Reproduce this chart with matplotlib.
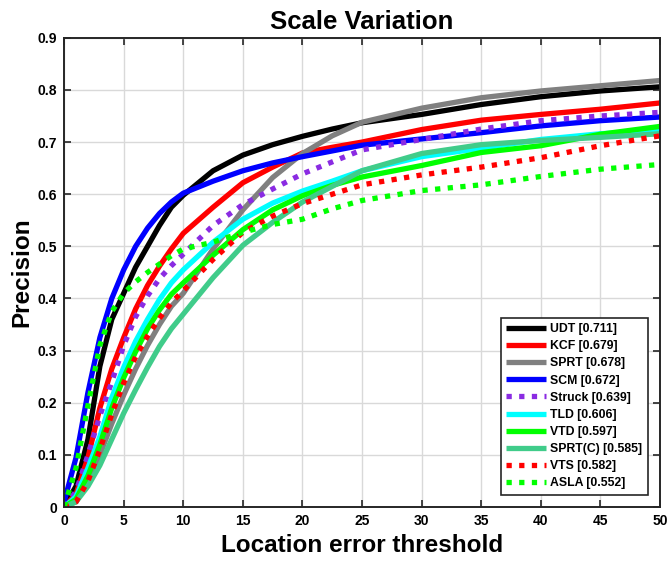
import matplotlib
matplotlib.use("Agg")
import matplotlib.pyplot as plt

# Data (precision vs location error threshold)
thresholds = [0, 1, 2, 3, 4, 5, 6, 7, 8, 9, 10, 12.5, 15, 17.5, 20, 22.5, 25, 30, 35, 40, 45, 50]

udt = [0, 0.04, 0.13, 0.27, 0.36, 0.41, 0.46, 0.50, 0.54, 0.575, 0.598, 0.645, 0.675, 0.695,
       0.711, 0.725, 0.737, 0.753, 0.772, 0.787, 0.798, 0.806]
kcf = [0, 0.025, 0.095, 0.19, 0.265, 0.325, 0.38, 0.425, 0.462, 0.495, 0.525, 0.575, 0.622, 0.652,
       0.679, 0.69, 0.70, 0.724, 0.742, 0.753, 0.763, 0.775]
sprt = [0, 0.01, 0.05, 0.10, 0.16, 0.215, 0.265, 0.31, 0.35, 0.385, 0.41, 0.495, 0.57, 0.632,
        0.678, 0.712, 0.738, 0.765, 0.785, 0.798, 0.808, 0.818]
scm = [0.01, 0.095, 0.22, 0.325, 0.40, 0.455, 0.50, 0.535, 0.563, 0.585, 0.602, 0.625, 0.645, 0.66,
       0.672, 0.683, 0.694, 0.706, 0.718, 0.731, 0.741, 0.748]
struck = [0, 0.03, 0.10, 0.175, 0.24, 0.31, 0.365, 0.405, 0.438, 0.463, 0.485, 0.54, 0.58, 0.61,
          0.639, 0.662, 0.685, 0.705, 0.725, 0.741, 0.75, 0.757]
tld = [0, 0.02, 0.075, 0.135, 0.21, 0.268, 0.318, 0.36, 0.398, 0.43, 0.455, 0.508, 0.552, 0.583,
       0.606, 0.625, 0.645, 0.672, 0.688, 0.705, 0.716, 0.722]
vtd = [0, 0.015, 0.06, 0.12, 0.19, 0.248, 0.298, 0.342, 0.378, 0.408, 0.43, 0.483, 0.532, 0.57,
       0.597, 0.617, 0.633, 0.655, 0.68, 0.693, 0.715, 0.73]
sprt_c = [0, 0.01, 0.04, 0.08, 0.13, 0.18, 0.225, 0.268, 0.308, 0.342, 0.37, 0.44, 0.502, 0.546,
          0.585, 0.615, 0.645, 0.678, 0.695, 0.703, 0.709, 0.716]
vts = [0, 0.01, 0.05, 0.11, 0.178, 0.238, 0.288, 0.328, 0.362, 0.392, 0.415, 0.475, 0.527, 0.558,
       0.582, 0.6, 0.618, 0.637, 0.652, 0.67, 0.693, 0.712]
asla = [0, 0.075, 0.195, 0.31, 0.375, 0.41, 0.432, 0.45, 0.466, 0.482, 0.495, 0.508, 0.527, 0.542,
        0.552, 0.572, 0.588, 0.607, 0.618, 0.634, 0.648, 0.657]

names = ["UDT [0.711]", "KCF [0.679]", "SPRT [0.678]", "SCM [0.672]", "Struck [0.639]",
         "TLD [0.606]", "VTD [0.597]", "SPRT(C) [0.585]", "VTS [0.582]", "ASLA [0.552]"]
series = [udt, kcf, sprt, scm, struck, tld, vtd, sprt_c, vts, asla]
colors = ["#000000", "#FF0000", "#808080", "#0000FF", "#8A2BE2",
          "#00FFFF", "#00FF00", "#40CC8A", "#FF0000", "#00FF00"]
dotted = [False, False, False, False, True, False, False, False, True, True]

plt.rcParams["font.family"] = ["Liberation Sans", "DejaVu Sans"]
plt.rcParams["font.weight"] = "bold"

fig = plt.figure(figsize=(6.68, 5.64), dpi=100)
ax = fig.add_axes([0.096, 0.101, 0.892, 0.832])

# plotted in legend order, later curves on top
for name, ys, c, d in zip(names, series, colors, dotted):
    ls = (0, (1, 1.4)) if d else "-"
    ax.plot(thresholds, ys, color=c, linewidth=3.8, linestyle=ls, label=name,
            dash_capstyle="butt", solid_capstyle="butt")

ax.set_xlim(0, 50)
ax.set_ylim(0, 0.9)
ax.set_xticks(range(0, 51, 5))
ax.set_yticks([i / 10 for i in range(10)])
ax.set_yticklabels(["0", "0.1", "0.2", "0.3", "0.4", "0.5", "0.6", "0.7", "0.8", "0.9"])
ax.tick_params(direction="in", top=True, right=True, length=5, width=1.2,
               labelsize=10, color="#262626", pad=5)
ax.grid(True, color="#D9D9D9", linewidth=1.0)
ax.set_axisbelow(True)
for s in ax.spines.values():
    s.set_linewidth(1.4)
    s.set_color("#262626")

ax.set_title("Scale Variation", fontsize=18.5, fontweight="bold", pad=6)
ax.set_xlabel("Location error threshold", fontsize=17.5, fontweight="bold", labelpad=4)
ax.set_ylabel("Precision", fontsize=17.5, fontweight="bold", labelpad=3)

leg = ax.legend(loc="lower right", handlelength=3.3, handletextpad=0.3, labelspacing=0.42,
                borderaxespad=1.0, borderpad=0.45, fancybox=False, framealpha=1,
                edgecolor="#262626", prop={"weight": "bold", "size": 8.8})
leg.get_frame().set_linewidth(1.2)

fig.savefig("out.png", dpi=100)
